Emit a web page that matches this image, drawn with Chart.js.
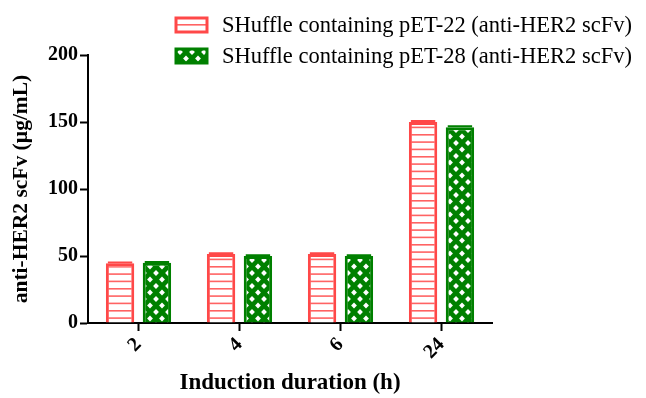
<!DOCTYPE html>
<html>
<head>
<meta charset="utf-8">
<script src="https://cdn.jsdelivr.net/npm/chart.js@4.4.1/dist/chart.umd.min.js"></script>
<style>
  html, body { margin: 0; padding: 0; background: #fff; }
  #wrap { width: 646px; height: 398px; position: relative; }
</style>
</head>
<body>
<div id="wrap"><canvas id="myChart"></canvas></div>
<script>
// data
const durations = ['2', '4', '6', '24'];
const pet22 = [44.5, 51.5, 51.5, 150];
const pet22Err = [0.6, 0.6, 0.6, 0.8];
const pet28 = [45, 50, 50, 146];
const pet28Err = [0.6, 0.6, 0.6, 0.8];
const yTicks = [0, 50, 100, 150, 200];

const RED = 'rgb(255,72,72)';
const GREEN = 'rgb(0,128,0)';
const SERIF = '"Liberation Serif", "Times New Roman", serif';

// horizontal stripes for pET-22
function stripePattern() {
  const c = document.createElement('canvas');
  c.width = 8; c.height = 22;
  const g = c.getContext('2d');
  g.fillStyle = '#fff';
  g.fillRect(0, 0, 8, 22);
  g.fillStyle = 'rgba(255,72,72,0.85)';
  [2, 9.3, 16.6].forEach(y => g.fillRect(0, y, 8, 1.6));
  return g.createPattern(c, 'repeat');
}

// green crosshatch with white diamonds for pET-28
function crossPattern() {
  const w = 12, h = 13;
  const c = document.createElement('canvas');
  c.width = w; c.height = h;
  const g = c.getContext('2d');
  g.fillStyle = GREEN;
  g.fillRect(0, 0, w, h);
  g.fillStyle = '#fff';
  const rx = 2.9, ry = 3.1;
  const pts = [[0, 0], [w, 0], [0, h], [w, h], [w / 2, h / 2]];
  pts.forEach(([x, y]) => {
    g.beginPath();
    g.moveTo(x, y - ry); g.lineTo(x + rx, y); g.lineTo(x, y + ry); g.lineTo(x - rx, y);
    g.closePath(); g.fill();
  });
  return g.createPattern(c, 'repeat');
}

const errors = [pet22Err, pet28Err];

const errorBars = {
  id: 'errorBars',
  afterDatasetsDraw(chart) {
    const ctx = chart.ctx;
    const y = chart.scales.y;
    chart.data.datasets.forEach((ds, i) => {
      const meta = chart.getDatasetMeta(i);
      meta.data.forEach((bar, j) => {
        const top = y.getPixelForValue(ds.data[j] + errors[i][j]);
        const base = y.getPixelForValue(ds.data[j]);
        const half = bar.width / 2 - 2;
        ctx.save();
        ctx.strokeStyle = ds.borderColor;
        ctx.lineWidth = 2;
        ctx.beginPath();
        ctx.moveTo(bar.x, base); ctx.lineTo(bar.x, top);
        ctx.moveTo(bar.x - half, top); ctx.lineTo(bar.x + half, top);
        ctx.stroke();
        ctx.restore();
      });
    });
  }
};

const sideLegend = {
  id: 'sideLegend',
  afterDraw(chart) {
    const ctx = chart.ctx;
    ctx.save();
    chart.data.datasets.forEach((ds, i) => {
      const cy = 25 + i * 31;
      const bx = 176, bw = 31, bh = 14;
      ctx.fillStyle = ds.backgroundColor;
      ctx.fillRect(bx, cy - bh / 2, bw, bh);
      ctx.strokeStyle = ds.borderColor;
      ctx.lineWidth = 3;
      ctx.strokeRect(bx, cy - bh / 2, bw, bh);
      ctx.fillStyle = '#000';
      ctx.font = '22.5px ' + SERIF;
      ctx.textBaseline = 'middle';
      ctx.textAlign = 'left';
      ctx.fillText(ds.label, 222, cy + 1);
    });
    ctx.restore();
  }
};

const ctx = document.getElementById('myChart').getContext('2d');
new Chart(ctx, {
  type: 'bar',
  data: {
    labels: durations,
    datasets: [{
      label: 'SHuffle containing pET-22 (anti-HER2 scFv)',
      data: pet22,
      backgroundColor: stripePattern(),
      borderColor: RED,
      borderWidth: 3,
      borderSkipped: 'bottom'
    }, {
      label: 'SHuffle containing pET-28 (anti-HER2 scFv)',
      data: pet28,
      backgroundColor: crossPattern(),
      borderColor: GREEN,
      borderWidth: 3,
      borderSkipped: 'bottom'
    }]
  },
  options: {
    responsive: true,
    maintainAspectRatio: false,
    animation: false,
    datasets: { bar: { categoryPercentage: 0.73, barPercentage: 0.77 } },
    layout: { padding: { top: 55, right: 154, left: 0, bottom: 0 } },
    plugins: { legend: { display: false }, tooltip: { enabled: false } },
    scales: {
      x: {
        offset: true,
        grid: { display: true, offset: false, drawOnChartArea: false, drawTicks: true,
                tickLength: 8, tickColor: '#000', tickWidth: 2 },
        border: { color: '#000', width: 2 },
        ticks: { color: '#000', font: { family: SERIF, size: 20, weight: 'bold' },
                 minRotation: 45, maxRotation: 45, padding: 2 },
        title: { display: true, text: 'Induction duration (h)', color: '#000',
                 font: { family: SERIF, size: 23, weight: 'bold' }, padding: { top: 0, bottom: 1 } },
        afterFit(s) { s.height = 75; }
      },
      y: {
        min: 0, max: 200,
        afterBuildTicks(s) { s.ticks = yTicks.map(v => ({ value: v })); },
        grid: { display: true, drawOnChartArea: false, drawTicks: true,
                tickLength: 8, tickColor: '#000', tickWidth: 2 },
        border: { color: '#000', width: 2 },
        ticks: { color: '#000', font: { family: SERIF, size: 20, weight: 'bold' }, padding: 2 },
        title: { display: true, text: 'anti-HER2 scFv (µg/mL)', color: '#000',
                 font: { family: SERIF, size: 21.5, weight: 'bold' }, padding: { top: 9, bottom: 0 } },
        afterFit(s) { s.width = 88; }
      }
    }
  },
  plugins: [errorBars, sideLegend]
});
</script>
</body>
</html>
